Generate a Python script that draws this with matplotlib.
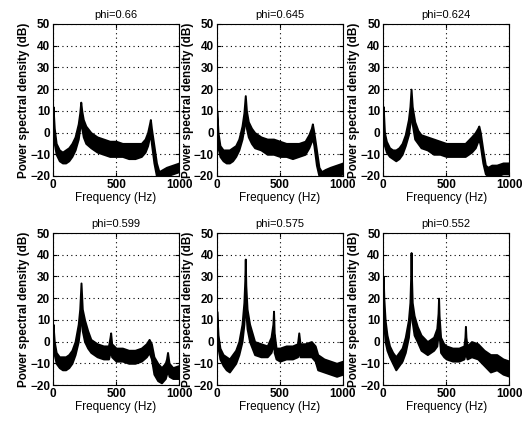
import matplotlib.pyplot as plt
import numpy as np

# envelopes (upper / lower edge of the noisy PSD band)
titles = ['phi=0.66', 'phi=0.645', 'phi=0.624', 'phi=0.599', 'phi=0.575', 'phi=0.552']

freq_1 = [0, 10, 25, 50, 75, 100, 125, 150, 175, 200, 212, 220, 228, 240, 260, 300, 350, 400, 450, 500,
          550, 600, 650, 700, 730, 750, 765, 772, 780, 800, 820, 840, 870, 900, 950, 1000]
upper_1 = [12, 2, -5, -8, -9, -8, -7, -5, -2, 4, 9, 14, 10, 6, 3, 0, -2, -3, -4, -4,
           -5, -5, -5, -5, -3, 0, 4, 6, 2, -6, -14, -18, -17, -16, -15, -14]
lower_1 = [5, -5, -10, -13, -14, -14, -13, -11, -8, -3, 2, 6, 2, -2, -5, -7, -9, -10, -11, -11,
           -11, -12, -12, -11, -9, -6, -2, 0, -5, -14, -20, -20, -20, -20, -19, -18]

freq_2 = [0, 10, 25, 50, 75, 100, 125, 150, 175, 200, 215, 226, 235, 250, 275, 300, 350, 400, 450, 500,
          550, 600, 650, 700, 730, 750, 758, 770, 790, 810, 830, 860, 900, 950, 1000]
upper_2 = [10, 0, -6, -8, -8, -8, -7, -6, -3, 3, 9, 17, 10, 5, 2, 0, -2, -3, -3, -4,
           -5, -5, -5, -4, -1, 2, 4, 0, -8, -16, -18, -17, -16, -15, -14]
lower_2 = [2, -7, -11, -13, -14, -14, -13, -11, -8, -3, 2, 7, 2, -2, -5, -7, -8, -10, -10, -11,
           -11, -12, -11, -10, -7, -4, -2, -6, -15, -20, -20, -20, -20, -20, -19]

freq_3 = [0, 10, 25, 50, 75, 100, 125, 150, 175, 200, 212, 221, 230, 250, 275, 300, 350, 400, 450, 500,
          550, 600, 650, 700, 730, 750, 758, 770, 790, 810, 830, 860, 900, 950, 1000]
upper_3 = [12, 0, -4, -7, -8, -8, -7, -5, -1, 6, 12, 20, 12, 5, 1, -1, -2, -3, -4, -5,
           -5, -5, -5, -2, 0, 2, 3, 0, -8, -15, -16, -15, -15, -14, -14]
lower_3 = [3, -6, -9, -11, -12, -13, -12, -10, -6, -1, 4, 10, 4, -3, -5, -7, -8, -10, -10, -11,
           -11, -11, -11, -9, -7, -4, -3, -6, -14, -19, -20, -20, -20, -19, -19]

freq_4 = [0, 10, 25, 50, 75, 100, 125, 150, 175, 200, 212, 222, 232, 250, 275, 300, 350, 400, 440, 452,
          457, 465, 500, 550, 600, 650, 700, 740, 762, 780, 800, 830, 860, 890, 900, 908, 920, 950, 1000]
upper_4 = [8, 0, -5, -7, -7, -7, -6, -4, 0, 8, 15, 27, 15, 10, 5, 1, -1, -2, -2, 2,
           4, -1, -3, -3, -4, -4, -3, -1, 1, -1, -7, -10, -12, -10, -8, -5, -10, -12, -11]
lower_4 = [2, -6, -10, -12, -13, -13, -12, -10, -6, 0, 6, 14, 5, 0, -3, -5, -7, -8, -8, -5,
           -3, -7, -9, -9, -10, -10, -9, -7, -5, -8, -15, -18, -19, -17, -15, -13, -16, -17, -17]

freq_5 = [0, 10, 25, 50, 75, 100, 125, 150, 175, 200, 215, 222, 226, 230, 240, 260, 300, 350, 400, 430,
          445, 450, 455, 470, 500, 550, 600, 640, 650, 660, 700, 750, 780, 800, 850, 900, 950, 1000]
upper_5 = [14, 3, -3, -6, -7, -8, -6, -4, 0, 8, 18, 28, 38, 26, 15, 8, 0, -1, -2, 2,
           8, 14, 4, -3, -3, -2, -2, -1, 4, -1, -1, 0, -2, -6, -8, -9, -10, -9]
lower_5 = [5, -3, -8, -11, -13, -14, -12, -10, -6, 0, 8, 15, 20, 14, 6, 0, -6, -7, -7, -5,
           -2, 4, -5, -8, -9, -8, -8, -7, -4, -7, -7, -7, -9, -13, -14, -15, -16, -15]

freq_6 = [0, 5, 15, 30, 50, 75, 100, 125, 150, 175, 200, 212, 218, 221, 224, 230, 245, 270, 300, 350,
          400, 425, 435, 439, 443, 455, 480, 500, 550, 600, 640, 648, 652, 656, 665, 700, 750, 800,
          850, 900, 950, 1000]
upper_6 = [30, 20, 10, 3, -2, -5, -7, -5, -3, 2, 10, 18, 30, 41, 30, 18, 12, 7, 3, 0,
           2, 6, 13, 20, 12, 2, -1, -2, -3, -3, -2, 2, 7, 2, -2, 0, -1, -4,
           -6, -6, -8, -9]
lower_6 = [20, 8, 0, -4, -7, -10, -13, -11, -9, -5, 2, 10, 15, 18, 15, 9, 3, 0, -4, -6,
           -4, -2, 3, 8, 3, -5, -7, -8, -9, -9, -8, -6, -2, -6, -8, -7, -8, -11,
           -14, -13, -15, -16]

freqs = [freq_1, freq_2, freq_3, freq_4, freq_5, freq_6]
uppers = [upper_1, upper_2, upper_3, upper_4, upper_5, upper_6]
lowers = [lower_1, lower_2, lower_3, lower_4, lower_5, lower_6]

plt.rcParams['font.family'] = 'Liberation Sans'

fig = plt.figure(figsize=(5.3, 4.21), dpi=100)
lefts = [0.100, 0.409, 0.723]
bottoms = [0.582, 0.0855]
w, h = 0.238, 0.361

for i in range(6):
    ax = fig.add_axes([lefts[i % 3], bottoms[i // 3], w, h])
    ax.fill_between(freqs[i], lowers[i], uppers[i], color='black', edgecolor='black', lw=1.4)
    ax.set_xlim(0, 1000)
    ax.set_ylim(-20, 50)
    ax.set_xticks([0, 500, 1000])
    ax.set_yticks(np.arange(-20, 51, 10))
    ax.grid(True, linestyle=(0, (1, 3)), color='black', linewidth=0.8)
    ax.tick_params(direction='in', top=True, right=True, length=3, labelsize=8.5, pad=2)
    for lab in ax.get_xticklabels() + ax.get_yticklabels():
        lab.set_fontweight('bold')
    for s in ax.spines.values():
        s.set_linewidth(0.8)
    ax.set_title(titles[i], fontsize=8, pad=4)
    ax.set_xlabel('Frequency (Hz)', fontsize=8.5, labelpad=1)
    ax.set_ylabel('Power spectral density (dB)', fontsize=8.5, fontweight='bold', labelpad=0)

plt.savefig('out.png', dpi=100)
